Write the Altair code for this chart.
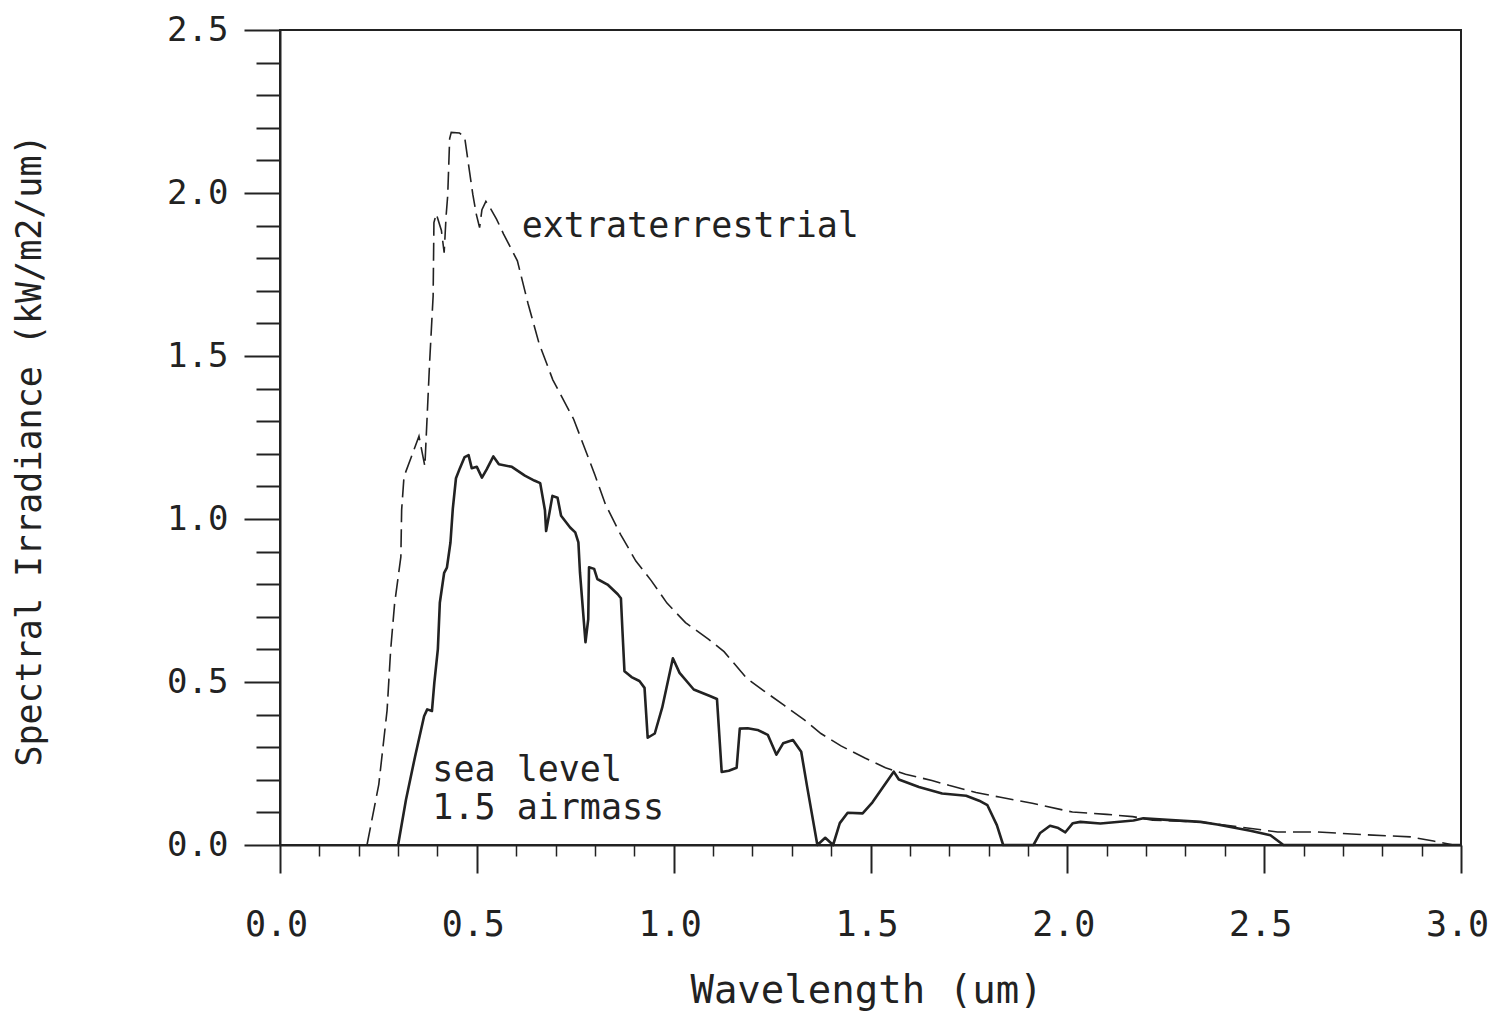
import altair as alt
import pandas as pd

# Extraterrestrial spectrum (dashed)
ext_wl = [0.221, 0.251, 0.272, 0.281, 0.291, 0.307, 0.309, 0.315, 0.334, 0.353,
          0.368, 0.380, 0.389, 0.391, 0.397, 0.410, 0.417, 0.422, 0.426, 0.431,
          0.435, 0.456, 0.469, 0.478, 0.490, 0.499, 0.507, 0.513, 0.523, 0.536,
          0.550, 0.568, 0.603, 0.630, 0.658, 0.693, 0.746, 0.800, 0.827, 0.865,
          0.904, 0.943, 0.983, 1.030, 1.089, 1.128, 1.185, 1.229, 1.281, 1.332,
          1.374, 1.425, 1.487, 1.538, 1.589, 1.656, 1.699, 1.768, 1.827, 1.911,
          2.013, 2.100, 2.166, 2.217, 2.337, 2.534, 2.635, 2.762, 2.872, 2.930,
          2.981]
ext_irr = [0.000, 0.186, 0.413, 0.597, 0.739, 0.884, 1.028, 1.130, 1.192, 1.254,
           1.162, 1.479, 1.684, 1.909, 1.936, 1.885, 1.817, 1.931, 1.992, 2.167,
           2.186, 2.184, 2.172, 2.095, 1.994, 1.933, 1.894, 1.949, 1.974, 1.950,
           1.920, 1.874, 1.792, 1.661, 1.539, 1.427, 1.306, 1.135, 1.044, 0.953,
           0.871, 0.811, 0.742, 0.682, 0.631, 0.593, 0.512, 0.473, 0.428, 0.384,
           0.342, 0.304, 0.266, 0.237, 0.217, 0.198, 0.183, 0.161, 0.147, 0.128,
           0.101, 0.094, 0.087, 0.076, 0.071, 0.040, 0.040, 0.031, 0.025, 0.012,
           0.000]

# Sea level, 1.5 airmass spectrum (solid)
sea_wl = [0.300, 0.320, 0.343, 0.366, 0.374, 0.386, 0.392, 0.401, 0.406, 0.417,
          0.424, 0.433, 0.439, 0.447, 0.457, 0.469, 0.479, 0.487, 0.500, 0.513,
          0.525, 0.542, 0.556, 0.589, 0.622, 0.646, 0.661, 0.673, 0.676, 0.683,
          0.692, 0.705, 0.714, 0.737, 0.750, 0.758, 0.762, 0.776, 0.783, 0.785,
          0.798, 0.806, 0.832, 0.858, 0.866, 0.870, 0.875, 0.893, 0.913, 0.926,
          0.934, 0.952, 0.971, 0.998, 1.015, 1.051, 1.092, 1.110, 1.122, 1.140,
          1.160, 1.168, 1.188, 1.213, 1.239, 1.261, 1.278, 1.303, 1.324, 1.339,
          1.365, 1.385, 1.405, 1.422, 1.442, 1.480, 1.505, 1.559, 1.572, 1.623,
          1.682, 1.743, 1.776, 1.797, 1.821, 1.837, 1.914, 1.931, 1.956, 1.975,
          1.995, 2.014, 2.033, 2.084, 2.168, 2.193, 2.254, 2.338, 2.381, 2.465,
          2.516, 2.549, 3.000]
sea_irr = [0.000, 0.139, 0.271, 0.395, 0.416, 0.411, 0.497, 0.601, 0.743, 0.835,
           0.851, 0.928, 1.032, 1.125, 1.156, 1.190, 1.196, 1.156, 1.160, 1.127,
           1.152, 1.192, 1.168, 1.160, 1.133, 1.118, 1.110, 1.027, 0.963, 1.009,
           1.071, 1.065, 1.010, 0.974, 0.959, 0.928, 0.836, 0.622, 0.693, 0.852,
           0.847, 0.816, 0.799, 0.769, 0.757, 0.655, 0.533, 0.515, 0.503, 0.482,
           0.329, 0.342, 0.422, 0.573, 0.528, 0.477, 0.457, 0.448, 0.224, 0.228,
           0.237, 0.357, 0.358, 0.353, 0.338, 0.277, 0.312, 0.322, 0.286, 0.179,
           0.000, 0.022, 0.000, 0.067, 0.099, 0.097, 0.131, 0.225, 0.201, 0.178,
           0.158, 0.151, 0.136, 0.122, 0.061, 0.000, 0.000, 0.037, 0.059, 0.053,
           0.039, 0.067, 0.071, 0.066, 0.075, 0.082, 0.077, 0.071, 0.063, 0.044,
           0.030, 0.000, 0.000]

# Axis ticks and labels
x_major = [0.0, 0.5, 1.0, 1.5, 2.0, 2.5, 3.0]
x_minor = [0.1, 0.2, 0.3, 0.4, 0.6, 0.7, 0.8, 0.9, 1.1, 1.2, 1.3, 1.4, 1.6, 1.7,
           1.8, 1.9, 2.1, 2.2, 2.3, 2.4, 2.6, 2.7, 2.8, 2.9]
y_major = [0.0, 0.5, 1.0, 1.5, 2.0, 2.5]
y_minor = [0.1, 0.2, 0.3, 0.4, 0.6, 0.7, 0.8, 0.9, 1.1, 1.2, 1.3, 1.4, 1.6, 1.7,
           1.8, 1.9, 2.1, 2.2, 2.3, 2.4]

# Annotations
note_text = ["extraterrestrial", "sea  level", "1.5  airmass"]
note_wl = [0.614, 0.387, 0.387]
note_irr = [1.866, 0.197, 0.079]

INK = "#222222"
FONT = "DejaVu Sans Mono"

ext_df = pd.DataFrame({"wl": ext_wl, "irr": ext_irr})
sea_df = pd.DataFrame({"wl": sea_wl, "irr": sea_irr})
note_df = pd.DataFrame({"label": note_text, "wl": note_wl, "irr": note_irr})

xscale = alt.Scale(domain=[0, 3], nice=False, zero=False)
yscale = alt.Scale(domain=[0, 2.5], nice=False, zero=False)

ext = alt.Chart(ext_df).mark_line(
    color=INK, strokeWidth=1.6, strokeDash=[18, 7]
).encode(
    x=alt.X("wl:Q", scale=xscale, title="Wavelength (um)",
            axis=alt.Axis(orient="bottom", values=x_major, format=".1f",
                          tickSize=28, tickWidth=2, domainWidth=2, grid=False,
                          labelFontSize=35, labelPadding=34, labelFlush=False,
                          labelOffset=-4,
                          titleFontSize=39, titleFontWeight="normal",
                          titleX=586, titleY=157, titleBaseline="alphabetic")),
    y=alt.Y("irr:Q", scale=yscale, title="Spectral Irradiance (kW/m2/um)",
            axis=alt.Axis(orient="left", values=y_major, format=".1f",
                          tickSize=36, tickWidth=2, domainWidth=2, grid=False,
                          labelFontSize=34, labelPadding=16, labelFlush=False,
                          titleFontSize=35, titleFontWeight="normal",
                          titleX=-240, titleY=420, titleBaseline="alphabetic")),
    order="wl:Q",
)

sea = alt.Chart(sea_df).mark_line(
    color=INK, strokeWidth=2.6, strokeJoin="round"
).encode(
    x=alt.X("wl:Q", scale=xscale, title=None,
            axis=alt.Axis(orient="bottom", values=x_minor, labels=False,
                          tickSize=11, tickWidth=1.5, domain=False, grid=False)),
    y=alt.Y("irr:Q", scale=yscale, title=None,
            axis=alt.Axis(orient="left", values=y_minor, labels=False,
                          tickSize=24, tickWidth=2, domain=False, grid=False)),
    order="wl:Q",
)

notes = alt.Chart(note_df).mark_text(
    align="left", baseline="alphabetic", font=FONT, fontSize=35, color=INK
).encode(
    x=alt.X("wl:Q", scale=xscale, axis=None),
    y=alt.Y("irr:Q", scale=yscale, axis=None),
    text="label:N",
)

chart = alt.layer(ext, sea, notes).resolve_axis(
    x="independent", y="independent"
).properties(
    width=1181, height=815,
    padding={"left": 272, "top": 22, "right": 34, "bottom": 170},
    autosize=alt.AutoSizeParams(type="none"),
    background="white",
).configure_view(
    stroke=INK, strokeWidth=2
).configure_axis(
    labelFont=FONT, titleFont=FONT, labelColor=INK, titleColor=INK,
    tickColor=INK, domainColor=INK
)

chart.save("out.html", embed_options={"renderer": "svg", "actions": False})
